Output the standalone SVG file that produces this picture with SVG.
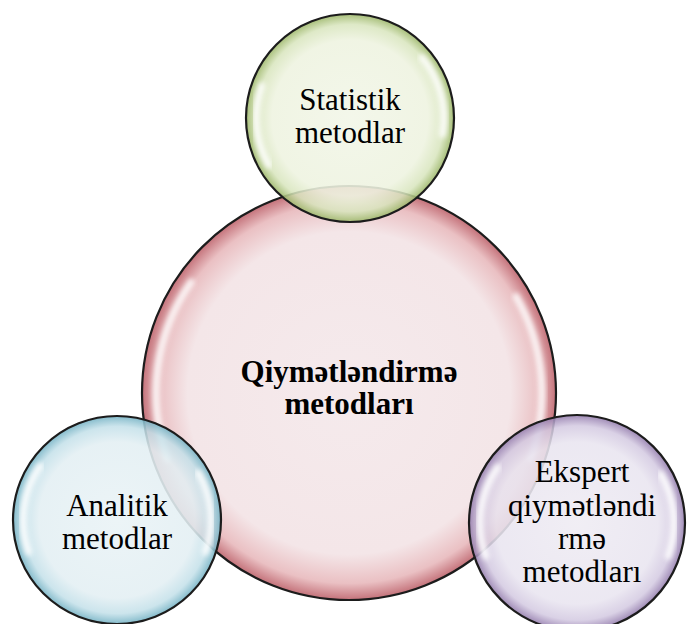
<svg xmlns="http://www.w3.org/2000/svg" width="688" height="624" viewBox="0 0 688 624">
<style>
.outline{stroke:#1c1c1c;stroke-width:2.2}
.hl{fill:none;stroke:#ffffff;stroke-width:7;stroke-linecap:round;opacity:0.85;filter:url(#blur)}
.lbl{font-family:"Liberation Serif","Times New Roman",serif;font-size:31px;fill:#000;text-anchor:middle}
.bold{font-weight:bold}
</style>
<defs>
<filter id="blur" x="-20%" y="-20%" width="140%" height="140%"><feGaussianBlur stdDeviation="2.5"/></filter>
<radialGradient id="gRed" cx="50%" cy="50%" r="50%">
<stop offset="0" stop-color="#f5eaec"/><stop offset="0.78" stop-color="#f4e6e8"/><stop offset="0.92" stop-color="#eac0c3"/><stop offset="1" stop-color="#c4727a"/>
</radialGradient>
<radialGradient id="gGreen" cx="50%" cy="50%" r="50%">
<stop offset="0" stop-color="#f2f6e8" stop-opacity="0.9"/><stop offset="0.75" stop-color="#eef3e0" stop-opacity="0.88"/><stop offset="0.9" stop-color="#d8e5bd" stop-opacity="0.85"/><stop offset="1" stop-color="#9db76a" stop-opacity="0.9"/>
</radialGradient>
<radialGradient id="gBlue" cx="50%" cy="50%" r="50%">
<stop offset="0" stop-color="#eaf3f6" stop-opacity="0.9"/><stop offset="0.75" stop-color="#e3eff3" stop-opacity="0.88"/><stop offset="0.9" stop-color="#c3e0e9" stop-opacity="0.85"/><stop offset="1" stop-color="#76b3c5" stop-opacity="0.9"/>
</radialGradient>
<radialGradient id="gPurple" cx="50%" cy="50%" r="50%">
<stop offset="0" stop-color="#efecf3" stop-opacity="0.9"/><stop offset="0.75" stop-color="#e9e5f0" stop-opacity="0.88"/><stop offset="0.9" stop-color="#d3c9e1" stop-opacity="0.85"/><stop offset="1" stop-color="#957eae" stop-opacity="0.9"/>
</radialGradient>
</defs>

<g id="main">
<circle cx="349" cy="393" r="207" fill="url(#gRed)" class="outline"/>
<path class="hl" d="M 167.6 459 A 193 193 0 0 1 190.9 282.2"/>
<path class="hl" d="M 516.1 296.5 A 193 193 0 0 1 530.4 459"/>
<text class="lbl bold" x="349" y="382">Qiymətləndirmə</text>
<text class="lbl bold" x="349" y="414">metodları</text>
</g>

<g id="statistik">
<circle cx="350" cy="118" r="104" fill="url(#gGreen)" class="outline"/>
<path class="hl" d="M 268.6 165 A 94 94 0 0 1 261.7 85.9"/>
<path class="hl" d="M 422 57.6 A 94 94 0 0 1 442.6 134.4"/>
<text class="lbl" x="350" y="110">Statistik</text>
<text class="lbl" x="350" y="143">metodlar</text>
</g>

<g id="analitik">
<circle cx="117" cy="520" r="104" fill="url(#gBlue)" class="outline"/>
<path class="hl" d="M 28.6 552.1 A 94 94 0 0 1 40 466.1"/>
<path class="hl" d="M 198.4 473 A 94 94 0 0 1 205.4 552.1"/>
<text class="lbl" x="117" y="516">Analitik</text>
<text class="lbl" x="117" y="549">metodlar</text>
</g>

<g id="ekspert">
<circle cx="577" cy="523" r="108" fill="url(#gPurple)" class="outline"/>
<path class="hl" d="M 485.8 556.2 A 97 97 0 0 1 497.5 467.4"/>
<path class="hl" d="M 661 474.5 A 97 97 0 0 1 668.2 556.2"/>
<text class="lbl" x="582" y="482">Ekspert</text>
<text class="lbl" x="582" y="516">qiymətləndi</text>
<text class="lbl" x="582" y="549">rmə</text>
<text class="lbl" x="582" y="582">metodları</text>
</g>

<g id="connectors"></g>
</svg>
